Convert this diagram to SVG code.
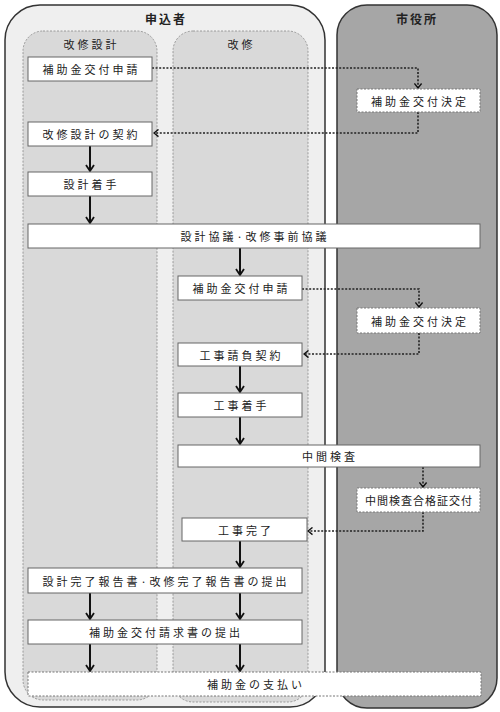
<svg xmlns="http://www.w3.org/2000/svg" width="500" height="712" viewBox="0 0 500 712">
<defs>
<marker id="ah" viewBox="0 0 10 10" refX="9" refY="5" markerWidth="10" markerHeight="10" markerUnits="userSpaceOnUse" orient="auto">
<path d="M3,1 L9,5 L3,9" fill="none" stroke="#111" stroke-width="1.8"/>
</marker>
<marker id="ahd" viewBox="0 0 10 10" refX="9" refY="5" markerWidth="9" markerHeight="9" markerUnits="userSpaceOnUse" orient="auto">
<path d="M4,1 L9,5 L4,9" fill="none" stroke="#111" stroke-width="1.5"/>
</marker>
</defs>
<style>
text{font-family:"Noto Sans CJK JP","Noto Sans CJK SC",sans-serif;font-size:11px;fill:#222;text-anchor:middle;dominant-baseline:central;letter-spacing:3px}
.hd{font-weight:bold;font-size:12px;letter-spacing:2px}
.box{fill:#fff;stroke:#666;stroke-width:1}
.dbox{fill:#fff;stroke:#777;stroke-width:1;stroke-dasharray:2,1.5}
.lane{fill:#d9d9d9;stroke:#888;stroke-width:0.8;stroke-dasharray:2,1.5}
.solid{fill:none;stroke:#111;stroke-width:2;marker-end:url(#ah)}
.dot{fill:none;stroke:#222;stroke-width:1.6;stroke-dasharray:2,1.6;marker-end:url(#ahd)}
</style>
<rect width="500" height="712" fill="#fff"/>
<g id="applicant">
<rect x="5" y="5" width="320" height="702" rx="35" fill="#efefef" stroke="#333" stroke-width="1.5"/>
<text class="hd" x="166" y="18">申込者</text>
</g>
<g id="city">
<rect x="337" y="5" width="160" height="703" rx="30" fill="#a6a6a6" stroke="#333" stroke-width="1.5"/>
<text class="hd" x="417" y="18">市役所</text>
</g>
<g id="lane-design">
<rect class="lane" x="23" y="31" width="134" height="669" rx="20"/>
<text x="91.5" y="44">改修設計</text>
</g>
<g id="lane-reno">
<rect class="lane" x="173" y="31" width="135" height="671" rx="20"/>
<text x="241.5" y="44">改修</text>
</g>
<g id="connectors">
<line class="solid" x1="90" y1="146" x2="90" y2="171"/>
<line class="solid" x1="90" y1="196" x2="90" y2="223"/>
<line class="solid" x1="240" y1="248" x2="240" y2="275"/>
<line class="solid" x1="240" y1="366" x2="240" y2="392"/>
<line class="solid" x1="240" y1="417" x2="240" y2="444"/>
<line class="solid" x1="240" y1="541" x2="240" y2="567"/>
<line class="solid" x1="90" y1="593" x2="90" y2="619"/>
<line class="solid" x1="240" y1="593" x2="240" y2="619"/>
<line class="solid" x1="90" y1="644" x2="90" y2="671"/>
<line class="solid" x1="240" y1="644" x2="240" y2="671"/>
<path class="dot" d="M152,68 H418 V88"/>
<path class="dot" d="M418,112 V133 H154"/>
<path class="dot" d="M302,289 H419 V307"/>
<path class="dot" d="M419,333 V354 H304"/>
<path class="dot" d="M423,467 V487"/>
<path class="dot" d="M423,512 V531 H308"/>
</g>
<g id="n1"><rect class="box" x="28" y="57" width="124" height="24"/><text x="91.5" y="69">補助金交付申請</text></g>
<g id="n2"><rect class="dbox" x="357" y="89" width="123" height="23"/><text x="420" y="100.5">補助金交付決定</text></g>
<g id="n3"><rect class="box" x="28" y="122" width="124" height="24"/><text x="91.5" y="134">改修設計の契約</text></g>
<g id="n4"><rect class="box" x="28" y="172" width="124" height="24"/><text x="91.5" y="184">設計着手</text></g>
<g id="n5"><rect class="box" x="28" y="224" width="452" height="24"/><text x="255" y="236">設計協議·改修事前協議</text></g>
<g id="n6"><rect class="box" x="178" y="276" width="124" height="24"/><text x="241.5" y="288">補助金交付申請</text></g>
<g id="n7"><rect class="dbox" x="357" y="308" width="123" height="25"/><text x="420" y="320.5">補助金交付決定</text></g>
<g id="n8"><rect class="box" x="178" y="343" width="124" height="23"/><text x="241.5" y="354.5">工事請負契約</text></g>
<g id="n9"><rect class="box" x="178" y="393" width="124" height="24"/><text x="241.5" y="405">工事着手</text></g>
<g id="n10"><rect class="box" x="178" y="445" width="302" height="22"/><text x="330" y="456">中間検査</text></g>
<g id="n11"><rect class="dbox" x="357" y="488" width="123" height="24"/><text x="419" y="500" style="letter-spacing:1px">中間検査合格証交付</text></g>
<g id="n12"><rect class="box" x="182" y="518" width="125" height="23"/><text x="246" y="529.5">工事完了</text></g>
<g id="n13"><rect class="box" x="28" y="568" width="274" height="25"/><text x="166" y="580.5">設計完了報告書·改修完了報告書の提出</text></g>
<g id="n14"><rect class="box" x="28" y="620" width="274" height="24"/><text x="166" y="632">補助金交付請求書の提出</text></g>
<g id="n15"><rect class="dbox" x="28" y="672" width="453" height="24"/><text x="256" y="684">補助金の支払い</text></g>
</svg>
